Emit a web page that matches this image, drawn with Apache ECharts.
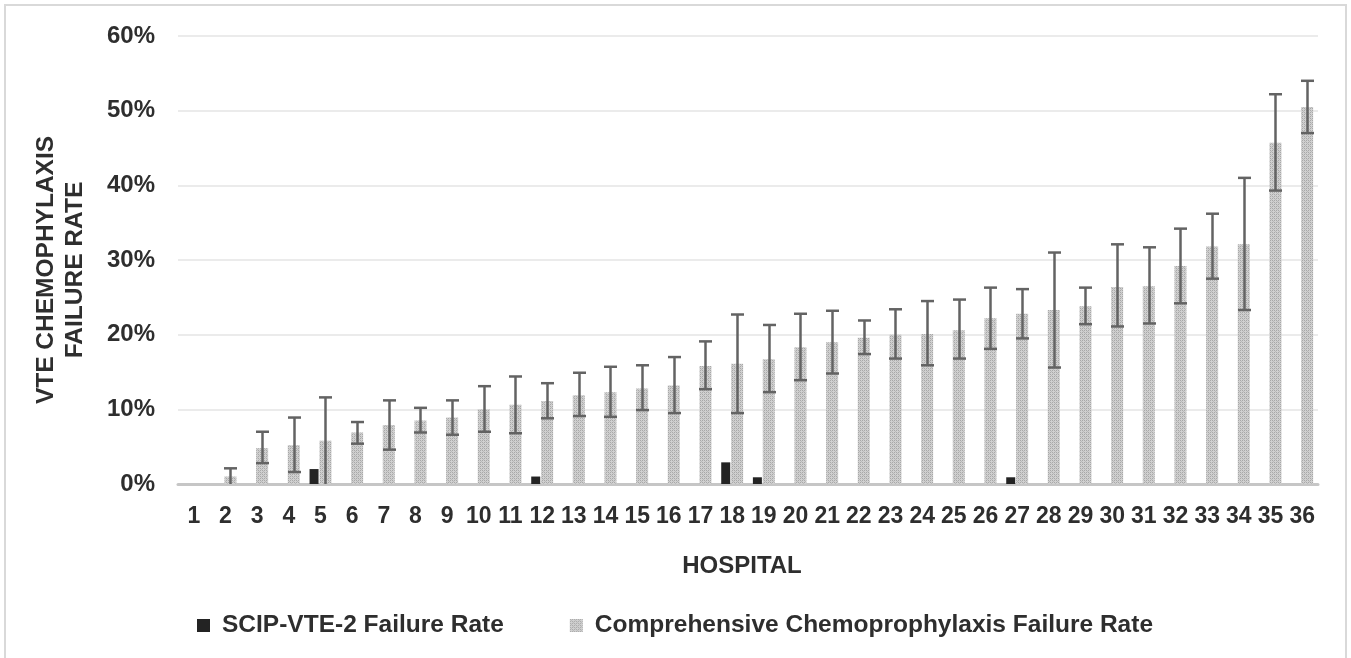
<!DOCTYPE html>
<html>
<head>
<meta charset="utf-8">
<script src="https://cdn.jsdelivr.net/npm/echarts@6/dist/echarts.min.js"></script>
<style>
html,body{margin:0;padding:0;background:#fff;}
#c{width:1351px;height:658px;}
</style>
</head>
<body>
<div id="c"></div>
<script>
const hospitals = ['1','2','3','4','5','6','7','8','9','10','11','12','13','14','15','16','17','18','19','20','21','22','23','24','25','26','27','28','29','30','31','32','33','34','35','36'];
const scipRate = [0,0,0,0,2.0,0,0,0,0,0,0,1.0,0,0,0,0,0,2.9,0.9,0,0,0,0,0,0,0,0.9,0,0,0,0,0,0,0,0,0];
const compRate = [0,1.0,4.8,5.2,5.8,6.9,7.9,8.5,8.9,10.0,10.6,11.1,11.9,12.3,12.8,13.2,15.8,16.1,16.7,18.3,19.0,19.6,20.0,20.1,20.6,22.2,22.8,23.3,23.8,26.4,26.5,29.2,31.8,32.1,45.7,50.5];
const compLow = [null,0,2.8,1.6,0,5.4,4.6,6.9,6.6,7.0,6.8,8.8,9.1,9.0,9.9,9.5,12.7,9.5,12.3,13.9,14.8,17.4,16.8,15.9,16.8,18.1,19.5,15.6,21.4,21.1,21.5,24.2,27.5,23.3,39.3,47.0];
const compHigh = [null,2.1,7.0,8.9,11.6,8.3,11.2,10.2,11.2,13.1,14.4,13.5,14.9,15.7,15.9,17.0,19.1,22.7,21.3,22.8,23.2,21.9,23.4,24.5,24.7,26.3,26.1,31.0,26.3,32.1,31.7,34.2,36.2,41.0,52.2,54.0];
const yTicks = [0,10,20,30,40,50,60];

const FONT = '"Liberation Sans", Arial, sans-serif';
const TXT = '#2e2e2e';
const W1 = 9, W2 = 12, GAP = 0.1;

// dotted texture for comprehensive bars
const pc = document.createElement('canvas');
pc.width = 4; pc.height = 4;
const g = pc.getContext('2d');
g.fillStyle = '#d0d0d0'; g.fillRect(0,0,4,4);
g.fillStyle = '#a8a8a8';
g.fillRect(0,0,1,1); g.fillRect(2,0,1,1); g.fillRect(0,2,1,1); g.fillRect(2,2,1,1);
g.fillStyle = '#bababa'; g.fillRect(1,1,1,1); g.fillRect(3,3,1,1);
const pattern = {image: pc, repeat: 'repeat'};

const errData = hospitals.map((h,i) => [i, compLow[i], compHigh[i]]);

const chart = echarts.init(document.getElementById('c'), null, {renderer:'canvas'});
chart.setOption({
  animation:false,
  backgroundColor:'#fff',
  graphic:[{type:'rect', silent:true, z:-10, shape:{x:5,y:5,width:1341,height:700}, style:{fill:'none', stroke:'#d9d9d9', lineWidth:2}}],
  grid:{left:178, right:33, top:36, bottom:174, containLabel:false},
  legend:{
    left:192, top:608, itemWidth:13, itemHeight:13, itemGap:66, icon:'rect',
    textStyle:{fontFamily:FONT, fontWeight:'bold', fontSize:24.5, color:TXT, padding:[0,0,0,7]},
    data:['SCIP-VTE-2 Failure Rate','Comprehensive Chemoprophylaxis Failure Rate']
  },
  xAxis:{
    type:'category', data:hospitals,
    name:'HOSPITAL', nameLocation:'middle', nameGap:70,
    nameTextStyle:{fontFamily:FONT, fontWeight:'bold', fontSize:24, color:TXT, padding:[0,12,0,0]},
    axisLine:{lineStyle:{color:'#c6c6c6', width:3}},
    axisTick:{show:false},
    axisLabel:{fontFamily:FONT, fontWeight:'bold', fontSize:23, color:TXT, margin:21, interval:0}
  },
  yAxis:{
    type:'value', min:0, max:60, interval:10,
    name:'VTE CHEMOPHYLAXIS\nFAILURE RATE', nameLocation:'middle', nameRotate:90, nameGap:88,
    nameTextStyle:{fontFamily:FONT, fontWeight:'bold', fontSize:24.5, color:TXT, lineHeight:29, align:'center', padding:[0,20,0,0]},
    axisLine:{show:false}, axisTick:{show:false},
    axisLabel:{fontFamily:FONT, fontWeight:'bold', fontSize:24, color:TXT, margin:23, formatter:'{value}%'},
    splitLine:{lineStyle:{color:'#ebebeb', width:2}}
  },
  series:[
    {name:'SCIP-VTE-2 Failure Rate', type:'bar', data:scipRate, barWidth:W1, barGap:(GAP*100)+'%',
     itemStyle:{color:'#232323'}},
    {name:'Comprehensive Chemoprophylaxis Failure Rate', type:'bar', data:compRate, barWidth:W2,
     itemStyle:{color:pattern}},
    {name:'err', type:'custom', data:errData, z:5,
     encode:{x:0, y:[1,2]},
     renderItem:function(params, api){
       const lo = api.value(1), hi = api.value(2);
       if (lo === null || hi === null || isNaN(lo) || isNaN(hi)) return null;
       const total = W1*(1+GAP) + W2;
       const off = -total/2 + W1*(1+GAP) + W2/2;
       const pLo = api.coord([api.value(0), lo]);
       const pHi = api.coord([api.value(0), hi]);
       const x = Math.round(pLo[0] + off) + 0.5;
       const half = 6.5;
       const st = {stroke:'#636363', lineWidth:2.5};
       const kids = [
         {type:'line', shape:{x1:x, y1:pLo[1], x2:x, y2:pHi[1]}, style:st},
         {type:'line', shape:{x1:x-half, y1:pHi[1], x2:x+half, y2:pHi[1]}, style:st}
       ];
       if (lo > 0) kids.push({type:'line', shape:{x1:x-half, y1:pLo[1], x2:x+half, y2:pLo[1]}, style:st});
       return {type:'group', children:kids};
     }}
  ]
});
</script>
</body>
</html>
